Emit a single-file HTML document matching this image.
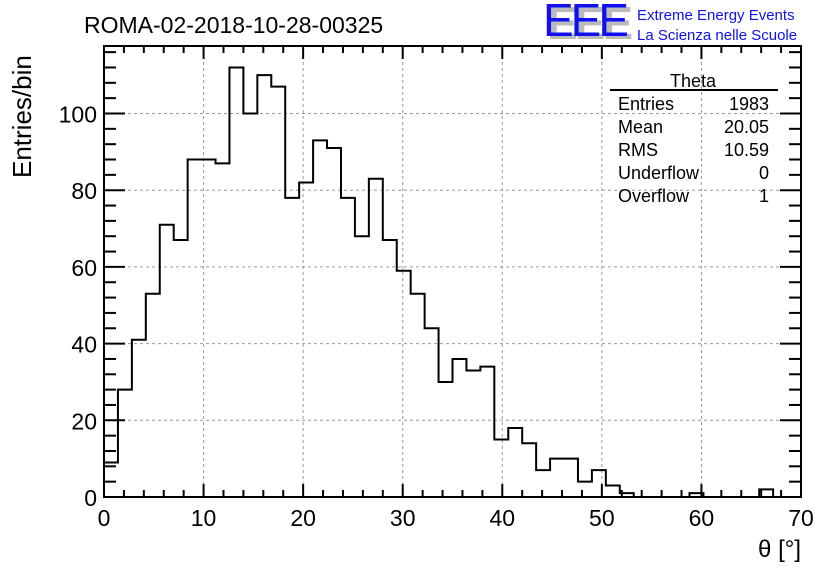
<!DOCTYPE html>
<html><head><meta charset="utf-8"><style>
body{margin:0;background:#fff;}
svg{display:block;font-family:"Liberation Sans",sans-serif;}
</style></head><body>
<svg id="chart" width="836" height="572" xmlns="http://www.w3.org/2000/svg">
<rect width="836" height="572" fill="#fff"/>
<g id="grid"></g>
<g id="ticks"></g>
<path id="hist" fill="none" stroke="#000" stroke-width="2"/>
<rect x="104" y="46" width="697" height="451" fill="none" stroke="#000" stroke-width="2"/>
<g id="labels" font-size="23"></g>
<text x="84" y="33" font-size="23">ROMA-02-2018-10-28-00325</text>
<text transform="translate(31,178) rotate(-90)" font-size="26" text-anchor="start">Entries/bin</text>
<text x="801" y="557" font-size="24" text-anchor="end">θ [°]</text>
<g>
<text x="547" y="39" font-size="46" fill="#bbb" font-weight="bold" letter-spacing="-3">EEE</text>
<text x="543" y="36" font-size="46" fill="#1010f0" letter-spacing="-3">EEE</text>
<text x="637" y="20" font-size="15" fill="#1010f0">Extreme Energy Events</text>
<text x="637" y="40" font-size="15" fill="#1010f0">La Scienza nelle Scuole</text>
</g>
<g font-size="18">
<text x="693" y="87" text-anchor="middle">Theta</text>
<line x1="610" y1="90" x2="778" y2="90" stroke="#000" stroke-width="2"/>
<text x="618" y="110">Entries</text><text x="769" y="110" text-anchor="end">1983</text>
<text x="618" y="133">Mean</text><text x="769" y="133" text-anchor="end">20.05</text>
<text x="618" y="156">RMS</text><text x="769" y="156" text-anchor="end">10.59</text>
<text x="618" y="179">Underflow</text><text x="769" y="179" text-anchor="end">0</text>
<text x="618" y="202">Overflow</text><text x="769" y="202" text-anchor="end">1</text>
</g>
</svg>
<script>
const binWidth = 1.4;
const counts = [9,28,41,53,71,67,88,88,87,112,100,110,107,78,82,93,91,78,68,83,67,59,53,44,30,36,33,34,15,18,14,7,10,10,4,7,3,1,0,0,0,0,1,0,0,0,0,2,0,0];
const xTicks = [0,10,20,30,40,50,60,70];
const yTicks = [0,20,40,60,80,100];
const X0=104,X1=801,Y0=497,Y1=46;
const xMin=0,xMax=70,yMin=0,yMax=117.6;
function sx(v){return X0+(v-xMin)/(xMax-xMin)*(X1-X0);}
function sy(v){return Y0-(v-yMin)/(yMax-yMin)*(Y0-Y1);}
const NS="http://www.w3.org/2000/svg";
function mk(tag,attrs,parent){const e=document.createElementNS(NS,tag);for(const k in attrs)e.setAttribute(k,attrs[k]);parent.appendChild(e);return e;}
const grid=document.getElementById('grid'),ticks=document.getElementById('ticks'),labels=document.getElementById('labels');
xTicks.forEach(t=>{
  if(t>xMin&&t<xMax){const g=mk('line',{x1:sx(t),x2:sx(t),y1:Y0,y2:Y1,stroke:'#999','stroke-dasharray':'3,3','stroke-width':1},grid);
  
  }
  const l=mk('text',{x:sx(t),y:Y0+29,'text-anchor':'middle'},labels);l.textContent=t;
  
  
});
yTicks.forEach(t=>{
  if(t>yMin){const g=mk('line',{x1:X0,x2:X1,y1:sy(t),y2:sy(t),stroke:'#999','stroke-dasharray':'3,3','stroke-width':1},grid);
  
  }
  const l=mk('text',{x:X0-7,y:sy(t)+9,'text-anchor':'end'},labels);l.textContent=t;
  
  
});
for(let v=0;v<=xMax;v+=2){const major=v%10===0;const len=major?13:7;
  mk('line',{x1:sx(v),x2:sx(v),y1:Y0,y2:Y0-len,stroke:'#000','stroke-width':2},ticks);
  mk('line',{x1:sx(v),x2:sx(v),y1:Y1,y2:Y1+len,stroke:'#000','stroke-width':2},ticks);}
for(let v=0;v<=yMax;v+=4){const major=v%20===0;const len=major?21:12;
  mk('line',{x1:X0,x2:X0+len,y1:sy(v),y2:sy(v),stroke:'#000','stroke-width':2},ticks);
  mk('line',{x1:X1,x2:X1-len,y1:sy(v),y2:sy(v),stroke:'#000','stroke-width':2},ticks);}
let d='M'+sx(0)+','+sy(0);
counts.forEach((c,i)=>{d+=' L'+sx(i*binWidth)+','+sy(c)+' L'+sx((i+1)*binWidth)+','+sy(c);});
d+=' L'+sx(counts.length*binWidth)+','+sy(0);
document.getElementById('hist').setAttribute('d',d);
</script>
</body></html>
